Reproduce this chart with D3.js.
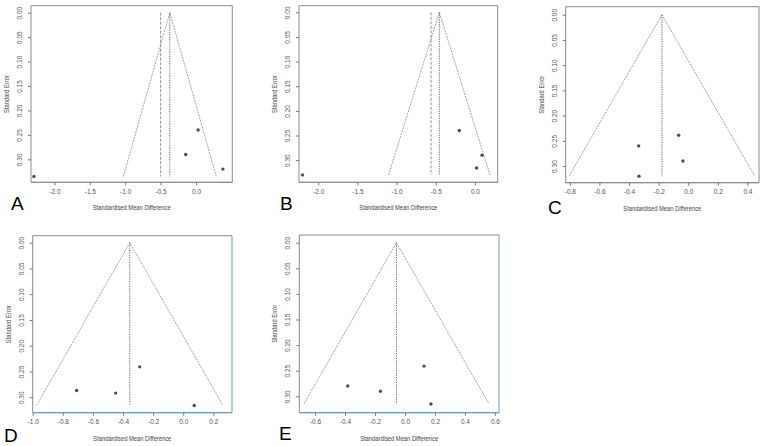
<!DOCTYPE html>
<html><head><meta charset="utf-8">
<script src="https://cdn.jsdelivr.net/npm/d3@7"></script>
<style>
body{margin:0;background:#fff;}
svg{display:block;font-family:"Liberation Sans",Arial,sans-serif;}
</style></head>
<body>
<svg id="c" width="767" height="446"></svg>
<script>
// ---- data ----
const panelNames = ["A","B","C","D","E"];
const smdA = [0.03, -0.145, 0.38, -2.29];
const seA  = [0.24, 0.29, 0.32, 0.335];
const smdB = [-0.20, 0.09, 0.02, -2.20];
const seB  = [0.24, 0.29, 0.316, 0.33];
const smdC = [-0.065, -0.335, -0.036, -0.333];
const seC  = [0.239, 0.26, 0.29, 0.32];
const smdD = [-0.289, -0.708, -0.449, 0.073];
const seD  = [0.241, 0.287, 0.292, 0.316];
const smdE = [0.127, -0.382, -0.164, 0.173];
const seE  = [0.241, 0.28, 0.29, 0.315];
const pooled   = [-0.37, -0.455, -0.178, -0.355, -0.057];   // dotted line / funnel apex
const altLine  = [-0.50, -0.56, null, null, null];            // dashed line
const xTicksA = [-2.0,-1.5,-1.0,-0.5,0.0];
const xTicksB = [-2.0,-1.5,-1.0,-0.5,0.0];
const xTicksC = [-0.8,-0.6,-0.4,-0.2,0.0,0.2,0.4];
const xTicksD = [-1.0,-0.8,-0.6,-0.4,-0.2,0.0,0.2];
const xTicksE = [-0.6,-0.4,-0.2,0.0,0.2,0.4,0.6];
const yTicks  = [0.00,0.05,0.10,0.15,0.20,0.25,0.30];
const xLimits = [[-2.331,0.513],[-2.245,0.29],[-0.828,0.478],[-1.0,0.324],[-0.705,0.627]];
const yLimits = [[-0.0143,0.347],[-0.0134,0.345],[-0.0159,0.333],[-0.0136,0.33],[-0.015,0.332]];
const xTitle = "Standardised Mean Difference";
const yTitle = "Standard Error";

// ---- layout (pixels) ----
const boxes = [[31,5.7,232.3,182.3],[299,5.7,497.7,182.3],[565.7,6.7,759,182.7],[32.7,235.7,232,412.7],[299.3,235,499,412.7]];
const letterPos = [[11,210],[280,210],[548,214],[4,442],[279,440]];
const rightColor = ["#8c8c8c","#8c8c8c","#8c8c8c","#6e9db6","#6e9db6"];

const smds=[smdA,smdB,smdC,smdD,smdE], ses=[seA,seB,seC,seD,seE];
const xTicks=[xTicksA,xTicksB,xTicksC,xTicksD,xTicksE];
const svg=d3.select("#c");

panelNames.forEach((name,i)=>{
  const [x0,y0,x1,y1]=boxes[i];
  const x=d3.scaleLinear().domain(xLimits[i]).range([x0,x1]);
  const y=d3.scaleLinear().domain(yLimits[i]).range([y0,y1]);
  const g=svg.append("g");
  const seMax=d3.max(ses[i]);
  const c=pooled[i];
  // funnel
  g.append("path")
    .attr("d",d3.line()([[x(c-1.96*seMax),y(seMax)],[x(c),y(0)],[x(c+1.96*seMax),y(seMax)]]))
    .attr("fill","none").attr("stroke","#9a9a9a").attr("stroke-width",0.9)
    .attr("stroke-dasharray","2,1");
  // pooled dotted line
  g.append("line").attr("x1",x(c)).attr("x2",x(c)).attr("y1",y(0)).attr("y2",y(seMax))
    .attr("stroke","#555").attr("stroke-width",0.9).attr("stroke-dasharray","1.2,1.2");
  if(altLine[i]!==null){
    g.append("line").attr("x1",x(altLine[i])).attr("x2",x(altLine[i])).attr("y1",y(0)).attr("y2",y(seMax))
      .attr("stroke","#888").attr("stroke-width",0.9).attr("stroke-dasharray","3,1.5");
  }
  // points
  g.selectAll("circle").data(smds[i].map((v,k)=>[v,ses[i][k]])).join("circle")
    .attr("cx",d=>x(d[0])).attr("cy",d=>y(d[1])).attr("r",1.7).attr("fill","#505050");
  // box
  g.append("path").attr("d",`M${x1},${y1}H${x0}V${y0}H${x1}`).attr("fill","none")
    .attr("stroke","#8c8c8c").attr("stroke-width",1);
  g.append("path").attr("d",`M${x0},${y1}H${x1}V${y0}`).attr("fill","none")
    .attr("stroke",rightColor[i]).attr("stroke-width",1);
  // x axis
  const xa=g.append("g").attr("transform",`translate(0,${y1})`)
    .call(d3.axisBottom(x).tickValues(xTicks[i]).tickSize(3).tickPadding(4).tickFormat(d=>d.toFixed(1)));
  xa.select(".domain").remove();
  xa.selectAll("line").attr("stroke","#777");
  xa.selectAll("text").attr("font-size",6.5).attr("fill","#555").attr("font-family","Liberation Sans, Arial");
  // y axis
  const ya=g.append("g").attr("transform",`translate(${x0},0)`)
    .call(d3.axisLeft(y).tickValues(yTicks).tickSize(3).tickPadding(0).tickFormat(d=>d.toFixed(2)));
  ya.select(".domain").remove();
  ya.selectAll("line").attr("stroke","#777");
  ya.selectAll("text").attr("font-size",6.5).attr("fill","#555").attr("font-family","Liberation Sans, Arial")
    .attr("text-anchor","middle").attr("dy",0).attr("x",0)
    .attr("transform","translate(-9,0) rotate(-90)");
  // titles
  g.append("text").attr("x",(x0+x1)/2).attr("y",y1+28).attr("text-anchor","middle")
    .attr("font-size",6.3).attr("fill","#444").attr("textLength",78).attr("lengthAdjust","spacingAndGlyphs").text(xTitle);
  g.append("text").attr("transform",`translate(${x0-22},${(y0+y1)/2}) rotate(-90)`).attr("text-anchor","middle")
    .attr("font-size",6.3).attr("fill","#444").attr("textLength",38).attr("lengthAdjust","spacingAndGlyphs").text(yTitle);
  // letter
  g.append("text").attr("x",letterPos[i][0]).attr("y",letterPos[i][1]).attr("font-size",19)
    .attr("fill","#000").text(name);
});
</script>
</body></html>
